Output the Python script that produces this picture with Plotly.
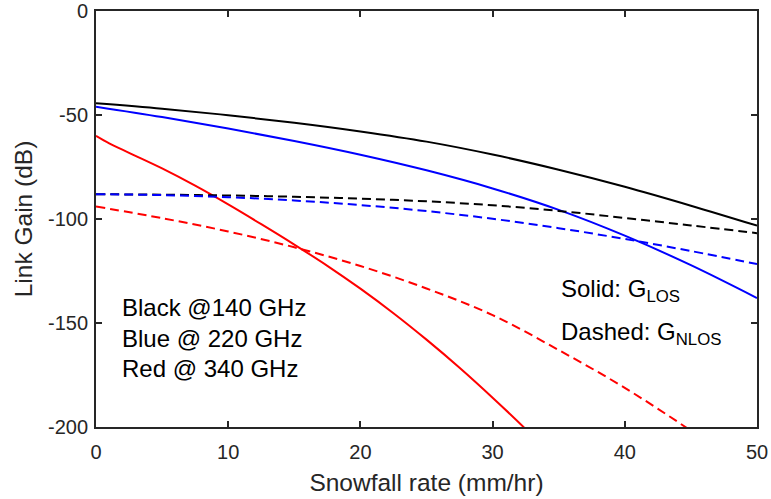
import plotly.graph_objects as go

# Snowfall rate (mm/hr)
x_k = [0, 5, 10, 15, 20, 25, 30, 35, 40, 45, 50]
black_los = [-44.4, -47.0, -50.1, -53.7, -57.9, -62.8, -69.0, -76.3, -84.5, -93.6, -103.2]
blue_los = [-46.0, -51.0, -56.5, -62.5, -69.1, -76.6, -85.3, -95.6, -108.0, -122.2, -138.0]
black_nlos = [-88.1, -88.3, -88.7, -89.3, -90.2, -91.5, -93.4, -96.1, -99.5, -103.1, -106.8]
blue_nlos = [-88.1, -88.5, -89.5, -91.1, -93.3, -96.2, -99.9, -104.4, -109.6, -115.4, -121.7]

x_red = [0, 1, 2.5, 5, 7.5, 10, 12.5, 15, 17.5, 20, 22.5, 25, 27.5, 30, 32.5, 35]
red_los = [-60.0, -63.6, -68.2, -75.7, -84.0, -93.0, -102.5, -112.3, -122.5, -133.5,
           -145.3, -158.0, -171.5, -185.9, -201.0, -217.0]
x_red_n = [0, 5, 10, 15, 20, 25, 30, 35, 40, 45, 50]
red_nlos = [-94.0, -99.6, -106.0, -113.6, -122.6, -133.4, -146.2, -163.0, -181.2, -201.8, -224.5]

x_ticks = [0, 10, 20, 30, 40, 50]
x_tick_text = ["0", "10", "20", "30", "40", "50"]
y_ticks = [0, -50, -100, -150, -200]
y_tick_text = ["0", "-50", "-100", "-150", "-200"]

FONT = "Liberation Sans, Arial, sans-serif"
AX = "#262626"

fig = go.Figure()
traces = [
    (x_k, black_los, "#000000", "solid"),
    (x_k, blue_los, "#0000FF", "solid"),
    (x_red, red_los, "#FF0000", "solid"),
    (x_k, black_nlos, "#000000", "9px,5px"),
    (x_k, blue_nlos, "#0000FF", "9px,5px"),
    (x_red_n, red_nlos, "#FF0000", "9px,5px"),
]
for xs, ys, c, d in traces:
    fig.add_trace(go.Scatter(x=xs, y=ys, mode="lines",
                             line=dict(color=c, width=2, dash=d, shape="spline", smoothing=1.0),
                             showlegend=False, hoverinfo="skip"))

left_labels = ["Black @140 GHz", "Blue @ 220 GHz", "Red @ 340 GHz"]
left_y = [-142.6, -157.4, -171.9]
for t, yy in zip(left_labels, left_y):
    fig.add_annotation(x=1.85, y=yy, xref="x", yref="y", text=t, showarrow=False,
                       xanchor="left", yanchor="middle",
                       font=dict(family=FONT, size=24, color="#000000"))

right_labels = ["Solid: G<sub>LOS</sub>", "Dashed: G<sub>NLOS</sub>"]
right_y = [-134.3, -155.0]
for t, yy in zip(right_labels, right_y):
    fig.add_annotation(x=35.0, y=yy, xref="x", yref="y", text=t, showarrow=False,
                       xanchor="left", yanchor="middle",
                       font=dict(family=FONT, size=24, color="#000000"))

axis_common = dict(showgrid=False, zeroline=False, showline=True, linecolor=AX, linewidth=2,
                   mirror="ticks", ticks="inside", ticklen=6, tickwidth=1.5, tickcolor=AX,
                   automargin=False,
                   tickfont=dict(family=FONT, size=20, color=AX))

fig.update_layout(
    width=771, height=499,
    margin=dict(l=95.5, r=13.5, t=11, b=72),
    paper_bgcolor="white", plot_bgcolor="white",
    xaxis=dict(range=[0, 50], tickvals=x_ticks, ticktext=x_tick_text, ticklabelstandoff=6,
               title=dict(text="Snowfall rate (mm/hr)", standoff=12,
                          font=dict(family=FONT, size=24.5, color=AX)),
               **axis_common),
    yaxis=dict(range=[-200, 0], tickvals=y_ticks, ticktext=y_tick_text, ticklabelstandoff=2,
               title=dict(text="Link Gain (dB)", standoff=8,
                          font=dict(family=FONT, size=24.5, color=AX)),
               **axis_common),
)

fig.write_html("out.html")
